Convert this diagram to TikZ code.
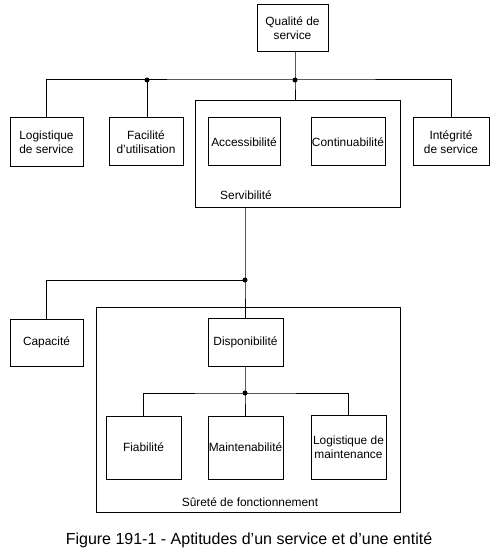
\documentclass[tikz,border=0pt]{standalone}
\usepackage{fontspec}
\setmainfont{Liberation Sans}
\begin{document}
\begin{tikzpicture}[x=1pt,y=-1pt,
  box/.style={draw,line width=1pt,inner sep=0pt,align=center,font=\fontsize{11.9}{14}\selectfont},
  frame/.style={draw,line width=1pt,inner sep=0pt},
  lbl/.style={inner sep=0pt,font=\fontsize{11.9}{14}\selectfont},
  link/.style={line width=1pt},
  junction/.style={circle,fill,inner sep=0pt,minimum size=5pt}]
\useasboundingbox (0,0) rectangle (500,556);
% top level
\node[box,minimum width=71pt,minimum height=47pt] (qual) at (292.5,28.5) {Qualité de\\service};
\node[box,minimum width=73pt,minimum height=49pt] (logs) at (46.5,142.5) {Logistique\\de service};
\node[box,minimum width=74pt,minimum height=48pt] (fac) at (146,142) {Facilité\\d'utilisation};
\node[frame,minimum width=205pt,minimum height=106pt] (serv) at (297.5,154) {};
\node[box,minimum width=72pt,minimum height=48pt] (acc) at (244,142) {Accessibilité};
\node[box,minimum width=74pt,minimum height=48pt] (cont) at (348,142) {Continuabilité};
\node[box,minimum width=76pt,minimum height=48pt] (integ) at (451,142) {Intégrité\\de service};
\node[lbl] (servlbl) at (246,195) {Servibilité};
% junctions
\node[junction] (j1) at (295,80) {};
\node[junction] (j2) at (147,80) {};
\node[junction] (j3) at (245,280) {};
\node[junction] (j4) at (245,393) {};
% lower level
\node[box,minimum width=73pt,minimum height=47pt] (cap) at (46.5,342.5) {Capacité};
\node[frame,minimum width=304pt,minimum height=205pt] (sur) at (248,409.5) {};
\node[box,minimum width=75pt,minimum height=48pt] (disp) at (245.5,342) {Disponibilité};
\node[box,minimum width=75pt,minimum height=63pt] (fiab) at (143.5,447.5) {Fiabilité};
\node[box,minimum width=75pt,minimum height=63pt] (maint) at (245.5,447.5) {Maintenabilité};
\node[box,minimum width=75pt,minimum height=64pt] (logm) at (348.5,447) {Logistique de\\maintenance};
\node[lbl] (surlbl) at (250,502) {Sûreté de fonctionnement};
\node[inner sep=0pt,font=\fontsize{16}{19}\selectfont] (cap1) at (249,540) {Figure 191-1 - Aptitudes d'un service et d'une entité};
% connectors
\draw[link] (qual.south -| j1) -- (j1.center) -- (serv.north -| j1);
\draw[link] (logs.north) |- (j1.center) -| (integ.north);
\draw[link] (j2.center) -- (fac.north -| j2);
\draw[link] (serv.south -| j3) -- (j3.center) -- (disp.north -| j3);
\draw[link] (j3.center) -| (cap.north);
\draw[link] (disp.south -| j4) -- (j4.center) -- (maint.north -| j4);
\draw[link] (fiab.north) |- (j4.center) -| (logm.north);
\end{tikzpicture}
\end{document}
